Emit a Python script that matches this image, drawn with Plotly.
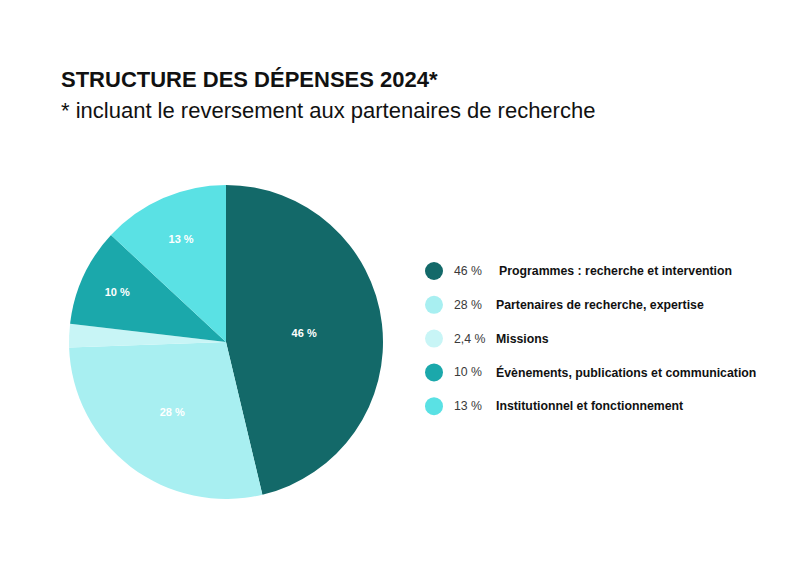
import plotly.graph_objects as go

categories = [
    "Programmes : recherche et intervention",
    "Partenaires de recherche, expertise",
    "Missions",
    "Évènements, publications et communication",
    "Institutionnel et fonctionnement",
]
values = [46, 28, 2.4, 10, 13]
pct_labels = ["46 %", "28 %", "2,4 %", "10 %", "13 %"]
slice_text = ["46 %", "28 %", "", "10 %", "13 %"]
colors = ["#136969", "#a8eff1", "#c8f5f6", "#1ba8ab", "#5ae1e4"]

W, H = 790, 575
OFF = 8  # page body margin offset
FONT = "Liberation Sans, Arial, sans-serif"


def px(x):
    return (x - OFF) / W


def py(y):
    return 1 - (y - OFF) / H


fig = go.Figure()
fig.add_trace(go.Pie(
    labels=categories,
    values=values,
    text=slice_text,
    texttemplate="%{text}",
    textposition="inside",
    insidetextorientation="horizontal",
    textfont=dict(family=FONT, size=11, color="white", weight="bold"),
    marker=dict(colors=colors, line=dict(width=0)),
    sort=False,
    direction="clockwise",
    rotation=0,
    showlegend=False,
    hoverinfo="label+percent",
    domain=dict(x=[px(69), px(383)], y=[py(499), py(185)]),
))

shapes = []
annotations = []
row0, gap = 271, 33.8
for i, (cat, pct, col) in enumerate(zip(categories, pct_labels, colors)):
    yc = row0 + i * gap
    r = 9
    shapes.append(dict(type="circle", xref="paper", yref="paper",
                       x0=px(434 - r), x1=px(434 + r),
                       y0=py(yc + r), y1=py(yc - r),
                       fillcolor=col, line=dict(width=0)))
    annotations.append(dict(x=px(452), y=py(yc), xref="paper", yref="paper",
                            xanchor="left", yanchor="middle", showarrow=False,
                            text=pct, font=dict(family=FONT, size=12.3, color="#3a3a3a")))
    lx = 497 if i == 0 else 494
    annotations.append(dict(x=px(lx), y=py(yc), xref="paper", yref="paper",
                            xanchor="left", yanchor="middle", showarrow=False,
                            text="<b>" + cat + "</b>",
                            font=dict(family=FONT, size=12.3, color="#111111")))

annotations.append(dict(x=px(59), y=py(79), xref="paper", yref="paper",
                        xanchor="left", yanchor="middle", showarrow=False,
                        text="<b>STRUCTURE DES DÉPENSES 2024*</b>",
                        font=dict(family=FONT, size=22, color="#111111")))
annotations.append(dict(x=px(59), y=py(110), xref="paper", yref="paper",
                        xanchor="left", yanchor="middle", showarrow=False,
                        text="* incluant le reversement aux partenaires de recherche",
                        font=dict(family=FONT, size=22, color="#111111")))

fig.update_layout(
    width=W, height=H,
    margin=dict(l=0, r=0, t=0, b=0),
    paper_bgcolor="white", plot_bgcolor="white",
    shapes=shapes, annotations=annotations,
)
fig.write_html("out.html")
